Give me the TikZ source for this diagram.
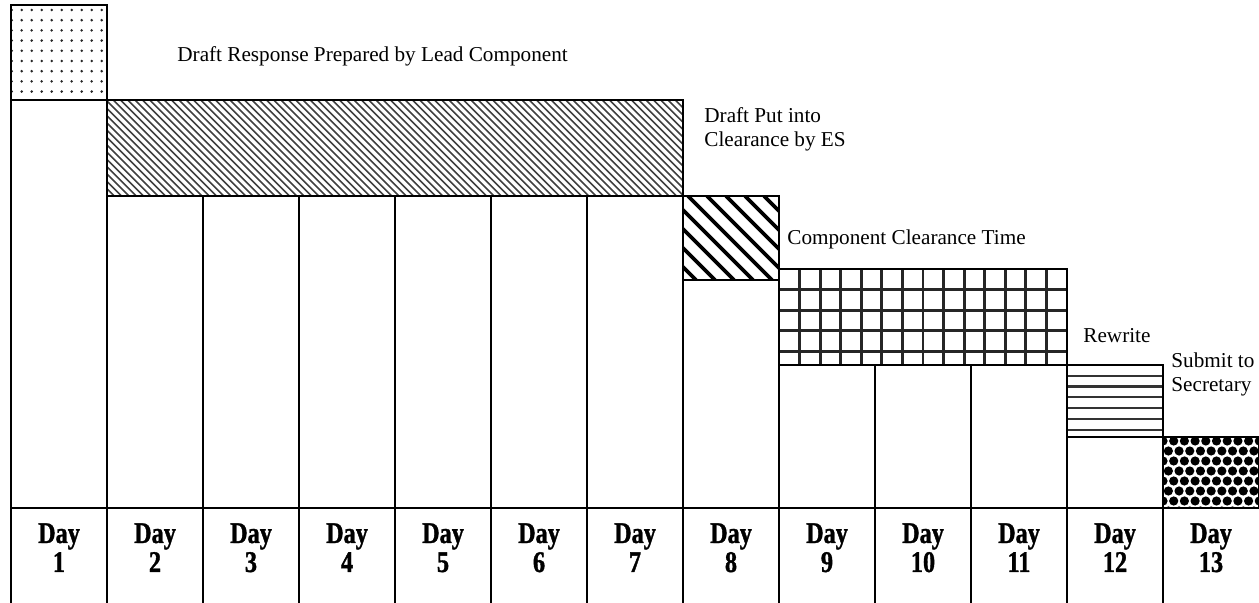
\documentclass[tikz,border=0pt]{standalone}
\usepackage{fontspec}
\setmainfont{Liberation Serif}
\newfontfamily\dayfont[FakeStretch=0.81,FakeBold=1.2]{Liberation Serif}
\tikzset{
  box/.style={draw=black, line width=1pt},
  colline/.style={draw=black, line width=1pt},
  steplabel/.style={font=\fontsize{10.6}{12}\selectfont, inner sep=0pt, anchor=base west, align=left},
  daylabel/.style={font=\dayfont\bfseries\fontsize{15}{14.5}\selectfont, inner sep=0pt, anchor=base, align=center}
}

\begin{document}
\begin{tikzpicture}[x=0.5pt, y=-0.5pt]
  \useasboundingbox (0,0) rectangle (1259,603);
  % day 1: dots
  \begin{scope}
    \clip (11,5) rectangle (107,100);
    \foreach \i in {0,...,9}
      \foreach \j in {0,...,9}
        \fill[black!85] ({11.7+10*\i}, {10+10.2*\j}) circle (1.4);
  \end{scope}
  \draw[box] (11,5) rectangle (107,100);
  % days 2-7: fine hatch
  \begin{scope}
    \clip (107,100) rectangle (683,196);
    \foreach \k in {0,...,93}
      \draw[black!75, line width=0.8pt] ({11+7.3*\k},100) -- ++(96,96);
  \end{scope}
  \draw[box] (107,100) rectangle (683,196);
  % day 8: wide stripes
  \begin{scope}
    \clip (683,196) rectangle (779,280);
    \foreach \k in {0,...,10}
      \draw[black, line width=1.9pt] ({593+19*\k},196) -- ++(84,84);
  \end{scope}
  \draw[box] (683,196) rectangle (779,280);
  % days 9-11: grid
  \foreach \k in {1,...,13}
    \draw[black!85, line width=1.4pt] ({779+20.57*\k},269) -- ({779+20.57*\k},365);
  \foreach \k in {1,...,4}
    \draw[black!85, line width=1.4pt] (779,{269+20.6*\k}) -- (1067,{269+20.6*\k});
  \draw[box] (779,269) rectangle (1067,365);
  % day 12: horizontal lines
  \foreach \k in {1,...,6}
    \draw[black!80, line width=1.1pt] (1067,{365+10.8*\k}) -- (1163,{365+10.8*\k});
  \draw[box] (1067,365) rectangle (1163,437);
  % day 13: balls
  \begin{scope}
    \clip (1163,437) rectangle (1259,508);
    \foreach \j in {0,...,7}
      \foreach \i in {0,...,9}
        \fill ({1163+10.7*\i+5.35*mod(\j,2)}, {441+10*\j}) circle (4.6);
  \end{scope}
  \draw[box] (1163,437) rectangle (1259,508);
  % columns
  \foreach \i/\top in {0/100,1/100,2/196,3/196,4/196,5/196,6/196,7/280,8/280,9/365,10/365,11/365,12/437}
    \draw[colline] ({11+96*\i},\top) -- ({11+96*\i},603);
  \draw[colline] (11,508) -- (1259,508);
  % day labels
  \foreach \i in {1,...,13}
    \node[daylabel] (day\i) at ({96*\i-37},572) {Day\\\i};
  % step labels
  \node[steplabel] (lead) at (177,62) {Draft Response Prepared by Lead Component};
  \node[steplabel] (clear) at (704,147) {Draft Put into\\Clearance by ES};
  \node[steplabel] (comp) at (787,245) {Component Clearance Time};
  \node[steplabel] (rewrite) at (1083,343) {Rewrite};
  \node[steplabel] (submit) at (1171,392) {Submit to\\Secretary};
\end{tikzpicture}
\end{document}
